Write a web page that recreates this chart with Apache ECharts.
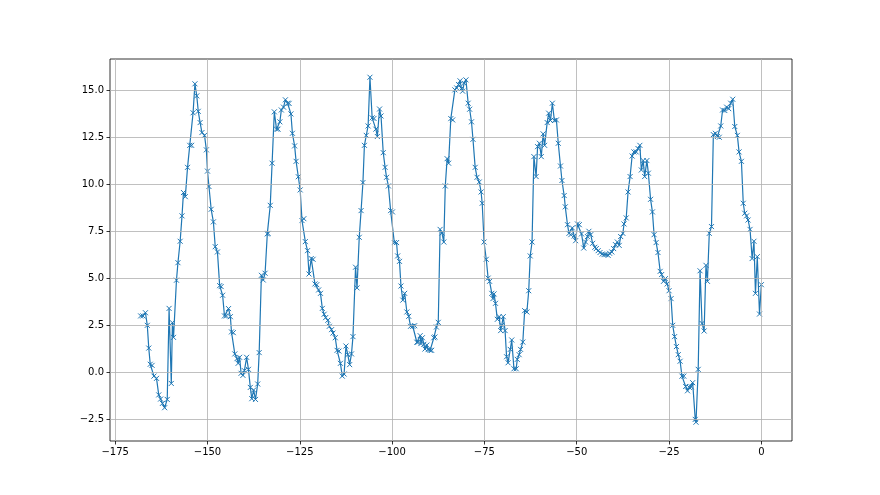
<!DOCTYPE html>
<html>
<head>
<meta charset="utf-8">
<script src="https://cdn.jsdelivr.net/npm/echarts@6/dist/echarts.min.js"></script>
<style>html,body{margin:0;padding:0;background:#fff;}#c{width:880px;height:495px;}</style>
</head>
<body>
<div id="c"></div>
<script>
var xTicks = [-175, -150, -125, -100, -75, -50, -25, 0];
var yTicks = [-2.5, 0, 2.5, 5, 7.5, 10, 12.5, 15];

var xs = [
-168.1,-167.5,-166.8,-166.3,-165.9,-165.5,-165.0,-164.5,-163.8,-163.2,-162.7,-162.2,-161.6,-160.9,-160.4,-159.8,-159.5,-159.2,-158.4,-158.0,
-157.4,-156.9,-156.5,-156.0,-155.4,-154.8,-154.3,-153.9,-153.4,-152.9,-152.5,-152.0,-151.5,-150.8,-150.3,-150.0,-149.6,-149.0,-148.4,-147.9,
-147.3,-146.7,-146.3,-145.9,-145.4,-144.9,-144.3,-143.8,-143.5,-143.0,-142.6,-142.0,-141.7,-141.3,-140.9,-140.4,-140.0,-139.4,-138.9,-138.4,
-138.0,-137.5,-137.0,-136.4,-136.0,-135.4,-134.9,-134.4,-133.8,-133.6,-133.0,-132.5,-131.9,-131.3,-130.9,-130.4,-130.0,-129.4,-128.9,-128.3,
-127.9,-127.4,-127.0,-126.4,-126.0,-125.4,-124.9,-124.4,-123.9,-123.5,-122.9,-122.5,-121.9,-121.4,-120.9,-120.4,-119.9,-119.4,-118.9,-118.4,
-118.0,-117.4,-117.0,-116.4,-116.0,-115.4,-114.9,-114.4,-114.0,-113.5,-113.0,-112.5,-112.0,-111.5,-111.0,-110.6,-109.9,-109.5,-108.9,-108.4,
-107.9,-107.5,-107.0,-106.5,-106.0,-105.4,-104.9,-104.4,-104.0,-103.4,-103.0,-102.4,-101.9,-101.5,-101.0,-100.4,-99.9,-99.4,-98.8,-98.5,
-98.0,-97.6,-97.1,-96.6,-96.0,-95.5,-95.0,-94.4,-93.9,-93.3,-93.0,-92.4,-92.2,-91.8,-91.4,-91.1,-90.6,-90.25,-89.7,-89.3,
-88.7,-88.4,-88.0,-87.5,-87.0,-86.5,-86.0,-85.6,-85.1,-84.7,-84.1,-83.6,-83.0,-82.5,-82.0,-81.6,-81.2,-80.9,-80.5,-80.0,
-79.4,-79.0,-78.5,-78.1,-77.5,-77.0,-76.4,-75.9,-75.6,-75.1,-74.5,-74.0,-73.6,-73.0,-72.7,-72.4,-72.0,-71.5,-71.0,-70.6,
-70.3,-69.9,-69.4,-69.0,-68.6,-68.0,-67.6,-67.0,-66.4,-66.1,-65.6,-65.2,-64.6,-64.1,-63.5,-63.0,-62.6,-62.1,-61.6,-61.0,
-60.6,-60.1,-59.6,-59.1,-58.7,-58.0,-57.6,-57.1,-56.6,-56.05,-55.5,-55.0,-54.4,-54.0,-53.4,-53.1,-52.5,-52.1,-51.6,-51.2,
-50.7,-50.3,-49.8,-49.3,-48.7,-48.1,-47.6,-47.1,-46.7,-46.2,-45.7,-45.1,-44.7,-44.2,-43.7,-43.1,-42.6,-42.1,-41.5,-41.1,
-40.5,-40.0,-39.5,-39.0,-38.5,-38.1,-37.5,-37.2,-36.6,-36.1,-35.55,-35.0,-34.5,-33.9,-33.4,-32.9,-32.5,-32.0,-31.6,-31.0,
-30.6,-30.0,-29.5,-29.05,-28.5,-28.0,-27.4,-27.0,-26.5,-26.0,-25.5,-25.0,-24.45,-24.0,-23.5,-23.0,-22.5,-22.0,-21.5,-21.0,
-20.5,-20.0,-19.5,-19.0,-18.6,-17.9,-17.7,-17.1,-16.6,-16.06,-15.5,-15.0,-14.6,-14.1,-13.5,-13.0,-12.45,-11.9,-11.4,-11.0,
-10.5,-9.9,-9.4,-8.84,-8.3,-7.75,-7.2,-6.5,-6.04,-5.4,-4.9,-4.5,-4.0,-3.6,-3.06,-2.5,-2.0,-1.6,-1.1,-0.5,
0.0
];
var ys = [
3.0,3.0,3.17,2.5,1.29,0.43,0.37,-0.2,-0.32,-1.2,-1.42,-1.65,-1.88,-1.44,3.4,-0.59,2.64,1.86,4.9,5.83,
6.97,8.32,9.56,9.34,10.9,12.07,12.07,13.8,15.34,14.7,13.88,13.28,12.75,12.6,11.83,10.7,9.88,8.67,8.0,6.68,
6.4,4.61,4.56,4.1,3.0,3.0,3.39,2.96,2.15,2.11,0.98,0.73,0.48,0.8,-0.05,-0.16,0.09,0.8,0.16,-0.8,
-1.4,-0.94,-1.44,-0.62,1.05,5.16,4.91,5.27,7.36,7.39,8.88,11.12,13.85,12.93,12.93,13.32,13.95,14.1,14.49,14.31,
14.3,13.74,12.71,12.04,11.22,10.4,9.7,8.07,8.17,6.95,6.47,5.23,6.05,6.01,4.7,4.66,4.38,4.2,3.4,3.09,
2.91,2.77,2.45,2.27,2.09,1.84,1.17,1.13,0.48,-0.2,-0.09,1.4,0.94,0.41,0.98,1.9,5.59,4.49,7.18,8.6,
10.09,12.07,12.6,13.1,15.69,13.53,13.5,12.93,12.54,14.0,13.63,11.68,10.9,10.37,9.91,8.6,8.53,6.9,6.9,6.19,
5.9,4.59,3.84,4.2,3.21,2.98,2.45,2.45,2.48,1.6,1.6,1.95,1.53,1.84,1.49,1.24,1.45,1.21,1.17,1.17,
1.84,1.88,2.41,2.66,7.6,7.41,6.93,9.91,11.36,11.12,13.49,13.42,15.02,15.12,15.3,15.5,15.09,14.95,15.37,15.55,
14.31,13.99,13.32,12.39,10.9,10.37,10.12,9.59,8.99,6.93,6.01,5.01,4.84,4.2,3.92,4.17,3.67,2.82,2.96,2.22,
2.5,2.96,2.22,0.83,0.51,1.22,1.72,0.19,0.19,0.69,0.94,1.22,1.61,3.28,3.21,4.34,6.19,6.93,11.47,10.41,
12.0,12.18,11.47,12.68,12.07,13.28,13.78,13.39,14.31,13.39,13.42,12.18,10.97,10.2,9.4,8.8,7.85,7.39,7.32,7.68,
7.25,7.0,7.89,7.85,7.36,6.61,6.93,7.22,7.5,7.32,6.86,6.65,6.58,6.47,6.37,6.29,6.26,6.26,6.22,6.33,
6.4,6.58,6.79,6.93,6.75,7.22,7.39,7.89,8.21,9.59,10.41,11.5,11.72,11.72,11.9,12.07,10.76,11.26,10.41,11.26,
10.59,9.2,8.53,7.32,6.9,6.37,5.37,5.2,4.84,4.98,4.7,4.34,3.92,2.5,1.9,1.37,0.94,0.59,-0.2,-0.2,
-0.75,-0.98,-0.8,-0.77,-0.55,-2.5,-2.65,0.16,5.4,2.6,2.2,5.69,4.84,7.39,7.75,12.64,12.71,12.54,12.5,13.1,
13.95,13.92,14.1,14.02,14.31,14.52,13.07,12.6,11.72,11.22,8.99,8.46,8.32,8.1,7.6,6.05,6.97,4.2,6.15,3.1,
4.66
];

var pts = xs.map(function (x, i) { return [x, ys[i]]; });

function fmtX(v) { return (v < 0 ? '\u2212' : '') + Math.abs(v).toFixed(0); }
function fmtY(v) { return (v < 0 ? '\u2212' : '') + Math.abs(v).toFixed(1); }

var gridMarks = xTicks.map(function (v) { return { xAxis: v }; })
  .concat(yTicks.map(function (v) { return { yAxis: v }; }));

var chart = echarts.init(document.getElementById('c'), null, { renderer: 'canvas' });
chart.setOption({
  animation: false,
  backgroundColor: '#fff',
  textStyle: { fontFamily: 'DejaVu Sans' },
  grid: { left: 110, right: 88, top: 59, bottom: 54, show: true, borderColor: '#000', borderWidth: 0.8, backgroundColor: 'transparent' },
  xAxis: {
    type: 'value', min: -176.4, max: 8.3,
    axisLine: { show: false, onZero: false },
    splitLine: { show: false },
    axisTick: { show: true, customValues: xTicks, length: 3.5, lineStyle: { color: '#000', width: 0.8 } },
    axisLabel: { customValues: xTicks, formatter: fmtX, fontSize: 10, color: '#000', margin: 6, fontFamily: 'DejaVu Sans' }
  },
  yAxis: {
    type: 'value', min: -3.65, max: 16.66,
    axisLine: { show: false, onZero: false },
    splitLine: { show: false },
    axisTick: { show: true, customValues: yTicks, length: 3.5, lineStyle: { color: '#000', width: 0.8 } },
    axisLabel: { customValues: yTicks, formatter: fmtY, fontSize: 10, color: '#000', margin: 6, fontFamily: 'DejaVu Sans' }
  },
  series: [
    {
      type: 'line', data: [], z: 1, silent: true,
      markLine: {
        silent: true, symbol: ['none', 'none'], label: { show: false },
        lineStyle: { color: '#b0b0b0', width: 0.8, type: 'solid' },
        emphasis: { disabled: true },
        data: gridMarks
      }
    },
    {
      type: 'line', data: pts, z: 3,
      showAllSymbol: true,
      symbol: 'path://M0,0L10,10M0,10L10,0',
      symbolSize: 5,
      lineStyle: { color: '#1f77b4', width: 1.2 },
      itemStyle: { color: '#1f77b4', borderColor: '#1f77b4', borderWidth: 1 }
    }
  ]
});
</script>
</body>
</html>
